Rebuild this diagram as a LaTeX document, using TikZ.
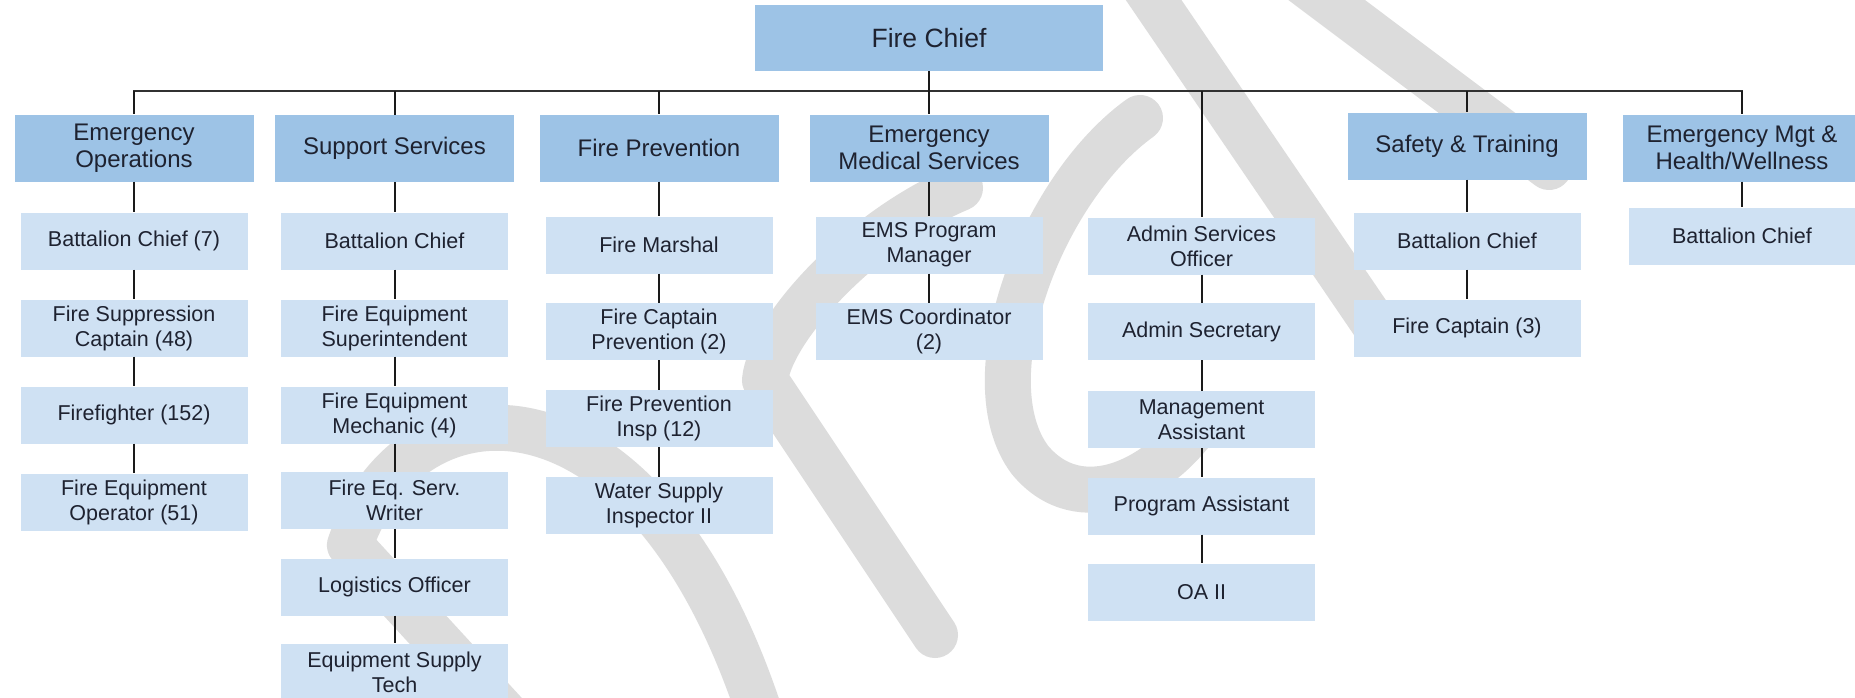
\documentclass[tikz,border=0pt]{standalone}
\usepackage{fontspec}
\setmainfont{Liberation Sans}
\definecolor{dk}{HTML}{9DC3E6}
\definecolor{lt}{HTML}{CFE1F3}
\definecolor{tx}{HTML}{1E2230}
\definecolor{wm}{HTML}{DCDCDC}
\definecolor{ln}{HTML}{1A1A1A}
\begin{document}
\begin{tikzpicture}[x=1pt,y=-1pt,
  topbox/.style={fill=dk, text=tx, minimum width=348pt, minimum height=66pt, inner sep=0pt, font=\fontsize{26.5}{30}\selectfont},
  dept/.style={fill=dk, text=tx, minimum width=239pt, minimum height=67pt, inner sep=0pt, align=center, font=\fontsize{24}{27}\selectfont},
  role/.style={fill=lt, text=tx, minimum width=227pt, minimum height=57pt, inner sep=0pt, align=center, font=\fontsize{21.5}{25}\selectfont},
  link/.style={draw=ln, line width=2pt},
  barline/.style={draw=ln!90!white, line width=2.6pt, line cap=rect},
  wmstroke/.style={draw=wm, line width=46pt, line cap=round, line join=round}
]
\useasboundingbox (0,0) rectangle (1855,697);
\fill[white] (0,0) rectangle (1855,697);

% watermark
\draw[wmstroke] (520,730) -- (350,545) .. controls (410,370) and (650,360) .. (765,730);
\draw[wmstroke] (960,188) .. controls (860,230) and (770,330) .. (765,380) -- (935,635);
\draw[wmstroke] (1140,118) .. controls (1040,190) and (970,380) .. (1030,460) .. controls (1080,520) and (1160,480) .. (1200,420);
\draw[wmstroke] (1140,-20) -- (1375,325);
\draw[wmstroke] (1300,-20) -- (1549,167);

% nodes
\node[topbox] (fc) at (929,38) {Fire Chief};

\node[dept] (eo)  at (134,148)    {Emergency\\Operations};
\node[dept] (ss)  at (394.5,148.5){Support Services};
\node[dept] (fp)  at (659,148)    {Fire Prevention};
\node[dept] (ems) at (929,148)    {Emergency\\Medical Services};
\node[dept] (st)  at (1467,146)   {Safety \& Training};
\node[dept] (em)  at (1742,148)   {Emergency Mgt \&\\Health/Wellness};

\node[role] (eo1) at (134,241) {Battalion Chief (7)};
\node[role] (eo2) at (134,328) {Fire Suppression\\Captain (48)};
\node[role] (eo3) at (134,415) {Firefighter (152)};
\node[role] (eo4) at (134,502) {Fire Equipment\\Operator (51)};

\node[role] (ss1) at (394.5,241)   {Battalion Chief};
\node[role] (ss2) at (394.5,328)   {Fire Equipment\\Superintendent};
\node[role] (ss3) at (394.5,415)   {Fire Equipment\\Mechanic (4)};
\node[role] (ss4) at (394.5,500.5) {Fire Eq. Serv.\\Writer};
\node[role] (ss5) at (394.5,587)   {Logistics Officer};
\node[role] (ss6) at (394.5,672)   {Equipment Supply\\Tech};

\node[role] (fp1) at (659,245)   {Fire Marshal};
\node[role] (fp2) at (659,331.5) {Fire Captain\\Prevention (2)};
\node[role] (fp3) at (659,418.5) {Fire Prevention\\Insp (12)};
\node[role] (fp4) at (659,505.5) {Water Supply\\Inspector II};

\node[role] (ems1) at (929,245)   {EMS Program\\Manager};
\node[role] (ems2) at (929,331.5) {EMS Coordinator\\(2)};

\node[role] (ad1) at (1201.5,246)   {Admin Services\\Officer};
\node[role] (ad2) at (1201.5,331.5) {Admin Secretary};
\node[role] (ad3) at (1201.5,419.5) {Management\\Assistant};
\node[role] (ad4) at (1201.5,506)   {Program Assistant};
\node[role] (ad5) at (1201.5,592)   {OA II};

\node[role] (st1) at (1467,241) {Battalion Chief};
\node[role] (st2) at (1467,328) {Fire Captain (3)};

\node[role] (em1) at (1742,236) {Battalion Chief};

% bar coordinates
\coordinate (b1) at (134,91);
\coordinate (b2) at (394.5,91);
\coordinate (b3) at (659,91);
\coordinate (b4) at (929,91);
\coordinate (b5) at (1201.5,91);
\coordinate (b6) at (1467,91);
\coordinate (b7) at (1742,91);

\draw[barline] (b1) -- (b7);
\draw[link] (fc) -- (b4);
\draw[link] (b1) -- (eo);
\draw[link] (b2) -- (ss);
\draw[link] (b3) -- (fp);
\draw[link] (b4) -- (ems);
\draw[link] (b5) -- (ad1);
\draw[link] (b6) -- (st);
\draw[link] (b7) -- (em);

\draw[link] (eo) -- (eo1);
\draw[link] (eo1) -- (eo2);
\draw[link] (eo2) -- (eo3);
\draw[link] (eo3) -- (eo4);

\draw[link] (ss) -- (ss1);
\draw[link] (ss1) -- (ss2);
\draw[link] (ss2) -- (ss3);
\draw[link] (ss3) -- (ss4);
\draw[link] (ss4) -- (ss5);
\draw[link] (ss5) -- (ss6);

\draw[link] (fp) -- (fp1);
\draw[link] (fp1) -- (fp2);
\draw[link] (fp2) -- (fp3);
\draw[link] (fp3) -- (fp4);

\draw[link] (ems) -- (ems1);
\draw[link] (ems1) -- (ems2);

\draw[link] (ad1) -- (ad2);
\draw[link] (ad2) -- (ad3);
\draw[link] (ad3) -- (ad4);
\draw[link] (ad4) -- (ad5);

\draw[link] (st) -- (st1);
\draw[link] (st1) -- (st2);

\draw[link] (em) -- (em1);
\end{tikzpicture}
\end{document}
